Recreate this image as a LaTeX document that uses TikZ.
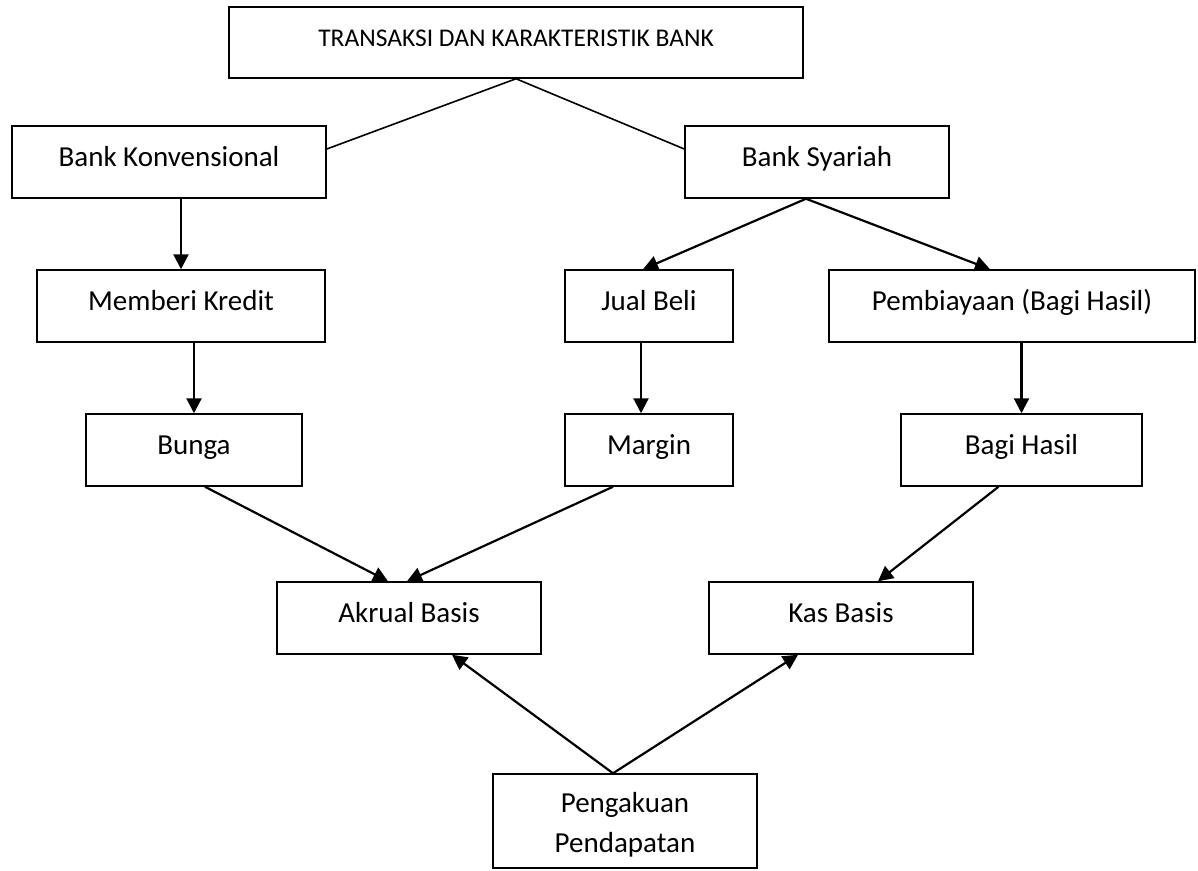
\documentclass[tikz,border=0pt]{standalone}
\usepackage{fontspec}
\setmainfont{Carlito}
\usetikzlibrary{arrows.meta,calc}
\begin{document}
\begin{tikzpicture}[x=1pt,y=-1pt,
  box/.style={draw,line width=1.5pt,inner sep=0pt,minimum height=72pt,
    font=\fontsize{29}{40}\selectfont,text height=20pt,text depth=12pt},
  arr/.style={line width=2.2pt,-{Triangle[length=15pt,width=15pt]}},
  plain/.style={line width=1.6pt}]
\path[use as bounding box] (0,0) rectangle (1198,870);

\node[box,minimum width=574pt,minimum height=71pt,font=\fontsize{25.5}{30}\selectfont,
  text height=18pt,text depth=11pt] (title) at (516,42.5) {TRANSAKSI DAN KARAKTERISTIK BANK};
\node[box,minimum width=314pt] (bk) at (169,162) {Bank Konvensional};
\node[box,minimum width=264pt] (bs) at (817,162) {Bank Syariah};
\node[box,minimum width=288pt] (mk) at (181,306) {Memberi Kredit};
\node[box,minimum width=168pt] (jb) at (649,306) {Jual Beli};
\node[box,minimum width=366pt] (pb) at (1012,306) {Pembiayaan (Bagi Hasil)};
\node[box,minimum width=216pt] (bu) at (194,450) {Bunga};
\node[box,minimum width=168pt] (mg) at (649,450) {Margin};
\node[box,minimum width=241pt] (bh) at (1021.5,450) {Bagi Hasil};
\node[box,minimum width=264pt] (ak) at (409,618) {Akrual Basis};
\node[box,minimum width=264pt] (ks) at (841,618) {Kas Basis};
\node[draw,line width=1.5pt,inner sep=0pt,minimum width=264pt,minimum height=94pt] (pp) at (625,821) {};
\node[align=center,inner sep=0pt,font=\fontsize{29}{40}\selectfont] (pptxt) at ($(pp.center)+(0,4)$) {Pengakuan\\Pendapatan};

% title connectors
\draw[plain] (title.south) -- ($(bk.east)+(0,-13)$);
\draw[plain] (title.south) -- ($(bs.west)+(0,-13)$);

% left column
\draw[arr] (mk.north |- bk.south) -- (mk.north);
\draw[arr] (bu.north |- mk.south) -- (bu.north);

% syariah branches
\coordinate (bsapex) at ($(bs.south)+(-11,0)$);
\draw[arr] (bsapex) -- ($(jb.north)+(-6,0)$);
\draw[arr] (bsapex) -- ($(pb.north)+(-22,0)$);
\draw[arr] ($(jb.south)+(-8,0)$) -- ($(mg.north)+(-8,0)$);
\draw[arr] (bh.north |- pb.south) -- (bh.north);

% to akrual / kas
\draw[arr] ($(bu.south)+(11,0)$) -- ($(ak.north)+(-21,0)$);
\draw[arr] ($(mg.south)+(-36,0)$) -- ($(ak.north)+(-2,0)$);
\draw[arr] ($(bh.south)+(-23,0)$) -- ($(ks.north)+(37,0)$);

% pengakuan
\coordinate (ppapex) at ($(pp.north)+(-12,0)$);
\draw[arr] (ppapex) -- ($(ak.south)+(43,0)$);
\draw[arr] (ppapex) -- ($(ks.south)+(-43,0)$);
\end{tikzpicture}
\end{document}
